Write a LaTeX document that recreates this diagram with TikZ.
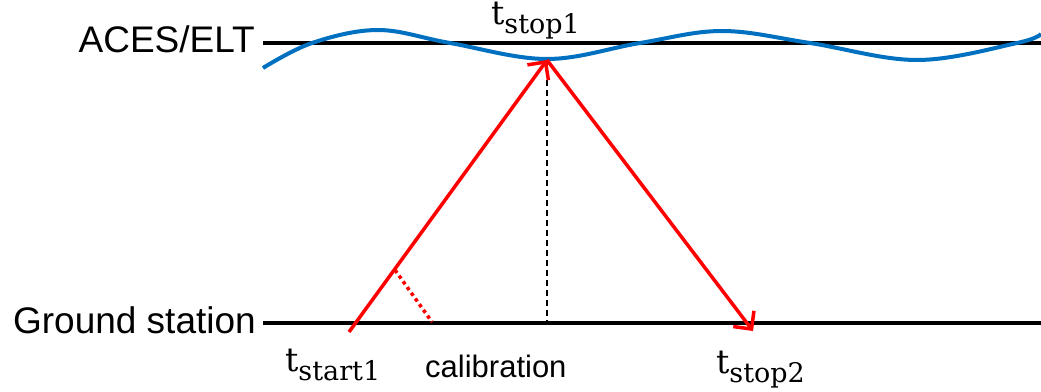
\documentclass[tikz,border=0pt]{standalone}
\usepackage{fontspec}
\setmainfont{Liberation Sans}
\newfontfamily\tfont{DejaVu Serif}
\usetikzlibrary{arrows.meta}
\definecolor{wave}{RGB}{0,112,192}
\definecolor{beam}{RGB}{255,0,0}
\tikzset{
  orbit/.style={line width=3.5pt,black},
  wavy/.style={line width=4pt,wave},
  laser/.style={line width=3.5pt,beam,-{Straight Barb[length=13pt,width=26pt]}},
  calib/.style={line width=3.5pt,beam,dash pattern=on 3.5pt off 3.5pt},
  vert/.style={line width=1.6pt,black,dash pattern=on 6pt off 4pt},
  lbl/.style={inner sep=0pt,font=\fontsize{37}{37}\selectfont},
  small/.style={inner sep=0pt,font=\fontsize{31}{31}\selectfont},
  tlbl/.style={inner sep=0pt,font=\tfont\fontsize{33}{33}\selectfont}
}
\newcommand{\tsub}[1]{t\raisebox{-9pt}{\fontsize{27}{27}\selectfont #1}}
\begin{document}
\begin{tikzpicture}[x=1pt,y=-1pt]
\useasboundingbox (0,0) rectangle (1041,391);
% lines
\coordinate (aL) at (263,43);
\coordinate (aR) at (1041,43);
\coordinate (gL) at (263,323);
\coordinate (gR) at (1041,323);
\draw[orbit] (aL) -- (aR);
\draw[orbit] (gL) -- (gR);
% labels
\node[lbl,anchor=base east] (aces) at (255,52) {ACES/ELT};
\node[lbl,anchor=base east] (gs) at (256,333) {Ground station};
\node[small,anchor=base west] (cal) at (425,377) {calibration};
% wave
\draw[wavy] plot[smooth,tension=0.6] coordinates {(263,68) (312,43) (378,30) (450,43) (547,59) (640,43) (722,31) (810,43) (917,60) (1017,43) (1041,34)};
% points
\coordinate (start) at (349,332);
\coordinate (refl) at (547,60);
\coordinate (stop) at (753,331);
\coordinate (foot) at (547,323);
\coordinate (cA) at (395,270);
\coordinate (cB) at (432,322);
\draw[vert] (refl) -- (foot);
\draw[calib] (cA) -- (cB);
\draw[laser] (start) -- (refl);
\draw[laser] (refl) -- (stop);
% time labels
\node[tlbl,anchor=base west] (t1) at (491,24) {\tsub{stop1}};
\node[tlbl,anchor=base west] (t0) at (285,371) {\tsub{start1}};
\node[tlbl,anchor=base west] (t2) at (716,373) {\tsub{stop2}};
\end{tikzpicture}
\end{document}
